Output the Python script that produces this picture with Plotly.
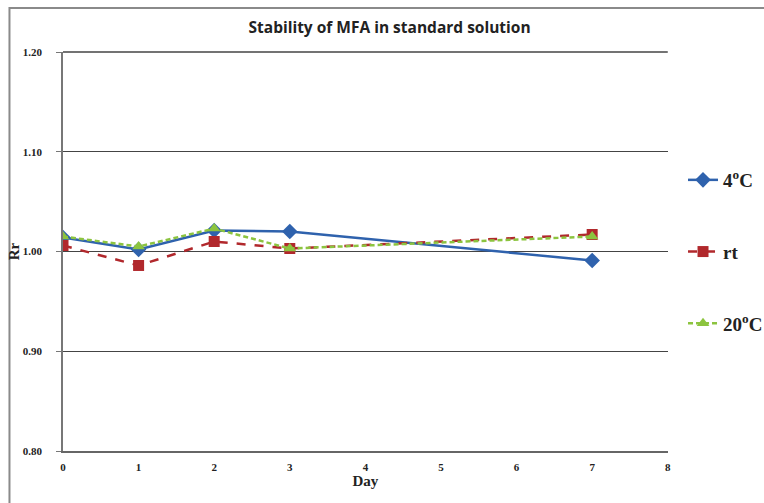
import plotly.graph_objects as go

days = [0, 1, 2, 3, 7]
series_names = ["<b>4<sup>o</sup>C</b>", "<b>rt</b>", "<b>20<sup>o</sup>C</b>"]
rr_4c = [1.014, 1.002, 1.021, 1.020, 0.991]
rr_rt = [1.006, 0.986, 1.010, 1.003, 1.017]
rr_20c = [1.015, 1.005, 1.023, 1.003, 1.015]
x_ticks = [0, 1, 2, 3, 4, 5, 6, 7, 8]
y_ticks = [0.80, 0.90, 1.00, 1.10, 1.20]

fig = go.Figure()
fig.add_trace(go.Scatter(
    x=days, y=rr_4c, name=series_names[0], mode="lines+markers",
    line=dict(color="#2f62ad", width=2.5),
    marker=dict(symbol="diamond", size=12, color="#2f62ad"),
    legendgroup="a"))
fig.add_trace(go.Scatter(
    x=days, y=rr_rt, name=series_names[1], mode="lines+markers",
    line=dict(color="#b1282c", width=2.5, dash="dash"),
    marker=dict(symbol="square", size=11, color="#b1282c"),
    legendgroup="b"))
fig.add_trace(go.Scatter(
    x=days, y=rr_20c, name=series_names[2], mode="lines+markers",
    line=dict(color="#8cc43f", width=2.5, dash="5px,3px"),
    marker=dict(symbol="triangle-up", size=11, color="#8cc43f"),
    legendgroup="c"))

fig.add_shape(type="rect", xref="paper", yref="paper",
              x0=-0.0885, x1=1.2, y0=-0.2, y1=1.11,
              line=dict(color="#8a8a8a", width=2), fillcolor="rgba(0,0,0,0)", layer="below")

tick_font = dict(family="Liberation Serif", size=11, color="#222")
fig.update_layout(
    width=764, height=503,
    margin=dict(l=62, r=92, t=52, b=52),
    paper_bgcolor="white", plot_bgcolor="white",
    title=dict(text="<b>Stability of MFA in standard solution</b>",
               x=0.54, xref="paper", y=0.945, yref="container", xanchor="center", yanchor="middle",
               font=dict(family="Open Sans", size=15.5, color="#222")),
    xaxis=dict(range=[0, 8], tickvals=x_ticks, ticktext=[f"<b>{v}</b>" for v in x_ticks],
               showgrid=False, zeroline=False, showline=True, linecolor="#666", linewidth=1.5,
               ticks="", tickfont=tick_font, ticklabelstandoff=5,
               title=dict(text="<b>Day</b>", font=dict(family="Liberation Serif", size=15, color="#222"), standoff=4)),
    yaxis=dict(range=[0.80, 1.20], tickvals=y_ticks, ticktext=[f"<b>{v:.2f}</b>" for v in y_ticks],
               showgrid=True, gridcolor="#444", gridwidth=1, zeroline=False,
               showline=True, linecolor="#777", linewidth=1.5,
               ticks="outside", ticklen=5, tickcolor="#777", tickfont=tick_font, ticklabelstandoff=12,
               title=dict(text="<b>Rr</b>", font=dict(family="Liberation Serif", size=15, color="#222"), standoff=0)),
    legend=dict(xref="container", yref="container", x=0.894, xanchor="left", y=0.499, yanchor="middle",
                font=dict(family="Liberation Serif", size=19, color="#222"),
                tracegroupgap=44, bgcolor="rgba(0,0,0,0)", itemwidth=30),
    showlegend=True,
)
fig.add_shape(type="line", xref="paper", yref="paper", x0=0, x1=1, y0=1, y1=1,
              line=dict(color="#444", width=1.5))

fig.write_html("out.html")
